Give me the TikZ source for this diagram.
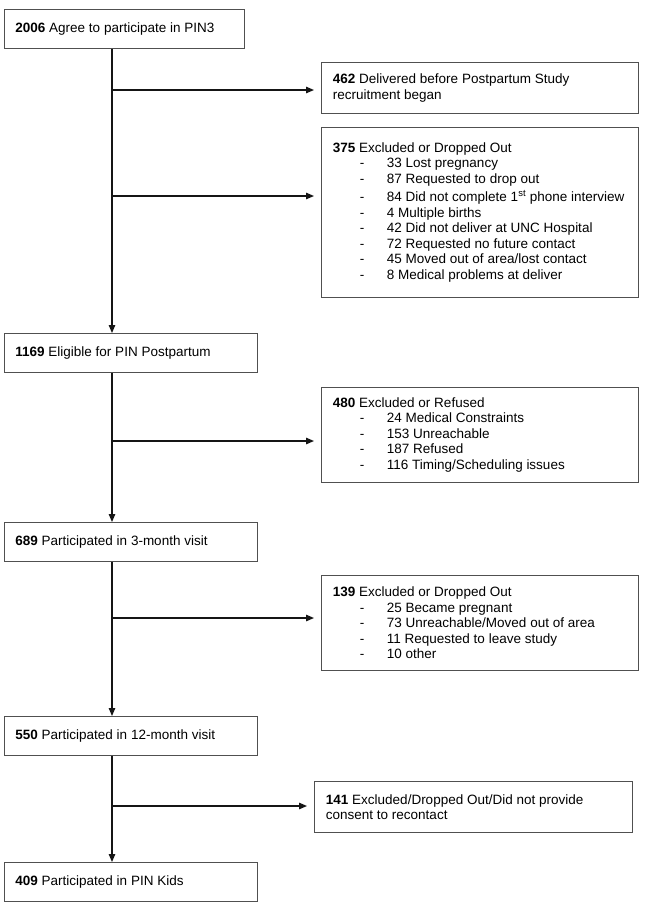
\documentclass[tikz,border=0pt]{standalone}
\usepackage{fontspec}
\setmainfont{Liberation Sans}
\usetikzlibrary{arrows.meta}
\definecolor{boxgray}{HTML}{505050}
\definecolor{arrowblack}{HTML}{151515}
\newcommand{\itm}[1]{\mbox{\hspace*{27pt}\makebox[27pt][l]{-}#1}}
\begin{document}
\begin{tikzpicture}[x=1pt,y=-1pt,
  box/.style={draw=boxgray, line width=0.9pt, anchor=north west, inner xsep=11.5pt, inner ysep=0pt,
    align=flush left, font=\fontsize{13.5}{15.5}\selectfont},
  mainbox/.style={box, inner xsep=11pt, text width=231pt, minimum height=39pt},
  sidebox/.style={box, text width=294pt},
  arr/.style={draw=arrowblack, line width=1.3pt, -{Triangle[length=8pt,width=6.5pt]}},
  harr/.style={arr, shorten >=7pt}]
\useasboundingbox (0,0) rectangle (645,924);

% main column
\node[box, inner xsep=11pt, text width=218pt, minimum height=39pt] (b2006) at (4,9) {\mbox{\textbf{2006} Agree to participate in PIN3}};
\node[mainbox] (b1169) at (4,333) {\mbox{\textbf{1169} Eligible for PIN Postpartum}};
\node[mainbox] (b689) at (4,522) {\mbox{\textbf{689} Participated in 3-month visit}};
\node[mainbox] (b550) at (4,716) {\mbox{\textbf{550} Participated in 12-month visit}};
\node[mainbox] (b409) at (4,862) {\mbox{\textbf{409} Participated in PIN Kids}};

% side boxes
\node[sidebox, minimum height=51pt] (b462) at (321,62) {\mbox{\textbf{462} Delivered before Postpartum Study}\\recruitment began};
\node[sidebox, minimum height=170pt] (b375) at (321,127) {\textbf{375} Excluded or Dropped Out\\
\itm{33 Lost pregnancy}\\
\itm{87 Requested to drop out}\\[3pt]
\itm{84 Did not complete 1\textsuperscript{st} phone interview}\\
\itm{4 Multiple births}\\
\itm{42 Did not deliver at UNC Hospital}\\
\itm{72 Requested no future contact}\\
\itm{45 Moved out of area/lost contact}\\
\itm{8 Medical problems at deliver}};
\node[sidebox, minimum height=95pt] (b480) at (321,387) {\textbf{480} Excluded or Refused\\
\itm{24 Medical Constraints}\\
\itm{153 Unreachable}\\
\itm{187 Refused}\\
\itm{116 Timing/Scheduling issues}};
\node[sidebox, minimum height=95pt] (b139) at (321,575) {\textbf{139} Excluded or Dropped Out\\
\itm{25 Became pregnant}\\
\itm{73 Unreachable/Moved out of area}\\
\itm{11 Requested to leave study}\\
\itm{10 other}};
\node[box, text width=295pt, minimum height=51pt] (b141) at (314,781) {\mbox{\textbf{141} Excluded/Dropped Out/Did not provide}\\consent to recontact};

% trunk junctions
\coordinate (j462) at (112,90);
\coordinate (j375) at (112,196);
\coordinate (j480) at (112,441);
\coordinate (j139) at (112,618);
\coordinate (j141) at (112,806);

% vertical arrows
\draw[arr] (b2006.south -| j462) -- (b1169.north -| j462);
\draw[arr] (b1169.south -| j480) -- (b689.north -| j480);
\draw[arr] (b689.south -| j139) -- (b550.north -| j139);
\draw[arr] (b550.south -| j141) -- (b409.north -| j141);

% horizontal arrows
\draw[harr] (j462) -- (b462.west |- j462);
\draw[harr] (j375) -- (b375.west |- j375);
\draw[harr] (j480) -- (b480.west |- j480);
\draw[harr] (j139) -- (b139.west |- j139);
\draw[harr] (j141) -- (b141.west |- j141);
\end{tikzpicture}
\end{document}
